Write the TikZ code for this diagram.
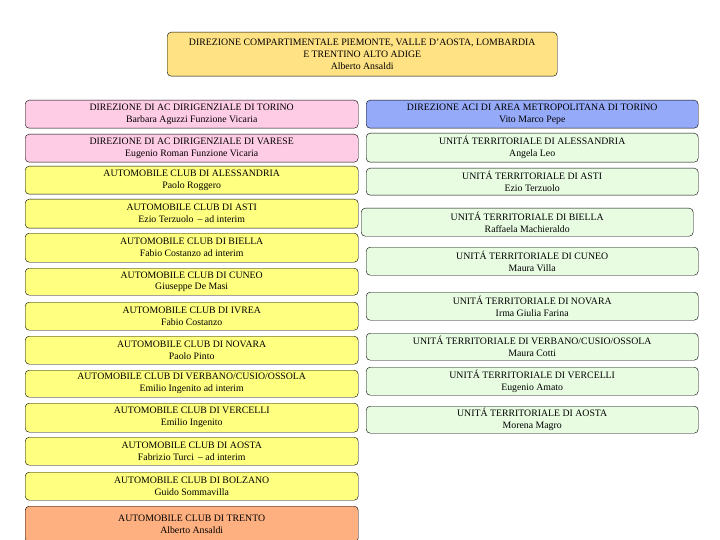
\documentclass[tikz,border=0pt]{standalone}
\usepackage{fontspec}
\setmainfont{Liberation Serif}
\tikzset{
    ufficio/.style = {shape = rectangle, draw, rounded corners = 4pt, anchor = north west,
        align = center, inner sep = 1pt, font = \fontsize{9.8}{11.8}\selectfont},
    sx/.style = {ufficio, minimum width = 333pt},
    dx/.style = {ufficio, minimum width = 332pt},
}
\definecolor{oro}{RGB}{255,226,132}
\definecolor{rosa}{RGB}{255,204,230}
\definecolor{giallo}{RGB}{255,255,128}
\definecolor{blu}{RGB}{150,170,250}
\definecolor{verde}{RGB}{232,252,226}
\definecolor{salmone}{RGB}{255,176,128}
\begin{document}
\begin{tikzpicture}[x = 1pt, y = -1pt]
    \useasboundingbox (0,0) rectangle (720,540);
    \node [ufficio, fill = oro, minimum width = 390pt, minimum height = 44pt] (dcp) at (167,32)
        {DIREZIONE COMPARTIMENTALE PIEMONTE, VALLE D'AOSTA, LOMBARDIA\\ E TRENTINO ALTO ADIGE\\ Alberto Ansaldi};

    \node [sx, fill = rosa, minimum height = 28pt] (dto) at (25,100) {DIREZIONE DI AC DIRIGENZIALE DI TORINO\\ Barbara Aguzzi Funzione Vicaria};
    \node [sx, fill = rosa, minimum height = 28pt] (dva) at (25,134) {DIREZIONE DI AC DIRIGENZIALE DI VARESE\\ Eugenio Roman Funzione Vicaria};
    \node [sx, fill = giallo, minimum height = 28pt] (acal) at (25,166) {AUTOMOBILE CLUB DI ALESSANDRIA\\ Paolo Roggero};
    \node [sx, fill = giallo, minimum height = 29pt] (acat) at (25,199) {AUTOMOBILE CLUB DI ASTI\\ Ezio Terzuolo \,-- ad interim};
    \node [sx, fill = giallo, minimum height = 29pt] (acbi) at (25,233) {AUTOMOBILE CLUB DI BIELLA\\ Fabio Costanzo ad interim};
    \node [sx, fill = giallo, minimum height = 27pt] (accn) at (25,268) {AUTOMOBILE CLUB DI CUNEO\\ Giuseppe De Masi};
    \node [sx, fill = giallo, minimum height = 28pt] (acivr) at (25,302) {AUTOMOBILE CLUB DI IVREA\\ Fabio Costanzo};
    \node [sx, fill = giallo, minimum height = 28pt] (acno) at (25,336) {AUTOMOBILE CLUB DI NOVARA\\ Paolo Pinto};
    \node [sx, fill = giallo, minimum height = 27pt] (acvb) at (25,370) {AUTOMOBILE CLUB DI VERBANO/CUSIO/OSSOLA\\ Emilio Ingenito ad interim};
    \node [sx, fill = giallo, minimum height = 29pt] (acvc) at (25,403) {AUTOMOBILE CLUB DI VERCELLI\\ Emilio Ingenito};
    \node [sx, fill = giallo, minimum height = 28pt] (acao) at (25,437) {AUTOMOBILE CLUB DI AOSTA\\ Fabrizio Turci \,-- ad interim};
    \node [sx, fill = giallo, minimum height = 28pt] (acbz) at (25,472) {AUTOMOBILE CLUB DI BOLZANO\\ Guido Sommavilla};
    \node [sx, fill = salmone, minimum height = 36pt] (actn) at (25,506) {AUTOMOBILE CLUB DI TRENTO\\ Alberto Ansaldi};

    \node [dx, fill = blu, minimum height = 28pt] (dmto) at (366,100) {DIREZIONE ACI DI AREA METROPOLITANA DI TORINO\\ Vito Marco Pepe};
    \node [dx, fill = verde, minimum height = 29pt] (utal) at (366,133) {UNITÁ TERRITORIALE DI ALESSANDRIA\\ Angela Leo};
    \node [dx, fill = verde, minimum height = 27pt] (utat) at (366,168) {UNITÁ TERRITORIALE DI ASTI\\ Ezio Terzuolo};
    \node [dx, fill = verde, minimum height = 28pt] (utbi) at (361,208) {UNITÁ TERRITORIALE DI BIELLA\\ Raffaela Machieraldo};
    \node [dx, fill = verde, minimum height = 28pt] (utcn) at (366,247) {UNITÁ TERRITORIALE DI CUNEO\\ Maura Villa};
    \node [dx, fill = verde, minimum height = 28pt] (utno) at (366,292) {UNITÁ TERRITORIALE DI NOVARA\\ Irma Giulia Farina};
    \node [dx, fill = verde, minimum height = 27pt] (utvb) at (366,333) {UNITÁ TERRITORIALE DI VERBANO/CUSIO/OSSOLA\\ Maura Cotti};
    \node [dx, fill = verde, minimum height = 28pt] (utvc) at (366,367) {UNITÁ TERRITORIALE DI VERCELLI\\ Eugenio Amato};
    \node [dx, fill = verde, minimum height = 27pt] (utao) at (366,406) {UNITÁ TERRITORIALE DI AOSTA\\ Morena Magro};
\end{tikzpicture}
\end{document}
